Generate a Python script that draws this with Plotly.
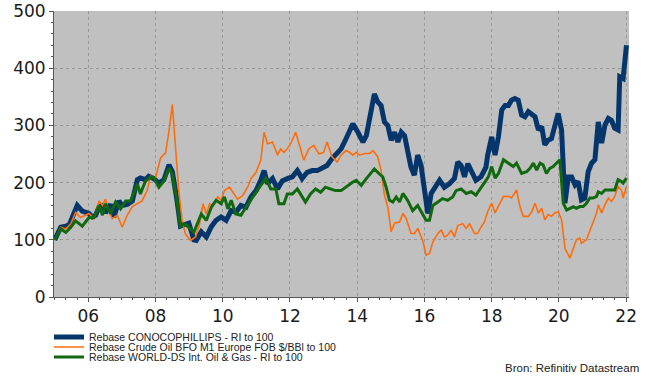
import plotly.graph_objects as go
from datetime import datetime

# ---- data (decimal years, rebased values) ----
conoco_t = [2005.0, 2005.18, 2005.33, 2005.43, 2005.57, 2005.67, 2005.82, 2006.02, 2006.12, 2006.22,
            2006.32, 2006.42, 2006.51, 2006.66, 2006.76, 2006.91, 2007.01, 2007.16, 2007.31, 2007.46,
            2007.55, 2007.70, 2007.80, 2007.95, 2008.10, 2008.25, 2008.40, 2008.50, 2008.64, 2008.74,
            2008.84, 2008.99, 2009.14, 2009.21, 2009.36, 2009.51, 2009.66, 2009.80, 2009.95, 2010.10,
            2010.25, 2010.39, 2010.54, 2010.69, 2010.84, 2010.99, 2011.13, 2011.23, 2011.33, 2011.48,
            2011.63, 2011.77, 2011.92, 2012.07, 2012.22, 2012.36, 2012.51, 2012.66, 2012.81, 2012.96,
            2013.10, 2013.25, 2013.40, 2013.52, 2013.67, 2013.87, 2014.02, 2014.17, 2014.27, 2014.37,
            2014.51, 2014.61, 2014.71, 2014.81, 2014.91, 2015.01, 2015.11, 2015.21, 2015.31, 2015.41,
            2015.50, 2015.60, 2015.70, 2015.80, 2015.90, 2016.00, 2016.10, 2016.20, 2016.35, 2016.45,
            2016.59, 2016.74, 2016.89, 2016.99, 2017.09, 2017.19, 2017.29, 2017.44, 2017.53, 2017.68,
            2017.83, 2017.88, 2018.00, 2018.10, 2018.20, 2018.30, 2018.40, 2018.50, 2018.59, 2018.69,
            2018.79, 2018.89, 2018.99, 2019.09, 2019.19, 2019.29, 2019.39, 2019.49, 2019.58, 2019.68,
            2019.78, 2019.88, 2019.98, 2020.08, 2020.18, 2020.28, 2020.38, 2020.48, 2020.57, 2020.67,
            2020.77, 2020.87, 2020.97, 2021.07, 2021.17, 2021.27, 2021.37, 2021.47, 2021.56, 2021.66,
            2021.76, 2021.81, 2021.91, 2022.01]
conoco_v = [100, 122, 124, 126, 146, 160, 150, 146, 140, 143,
            158, 160, 147, 162, 140, 168, 160, 162, 168, 205,
            208, 205, 211, 207, 199, 205, 231, 219, 168, 124,
            126, 129, 100, 99, 114, 105, 123, 134, 140, 134,
            151, 148, 160, 157, 175, 186, 204, 221, 198, 207,
            189, 203, 207, 210, 221, 207, 218, 221, 221, 227,
            230, 242, 250, 259, 277, 303, 288, 271, 282, 309,
            355, 341, 335, 306, 300, 274, 288, 271, 288, 282,
            256, 227, 213, 248, 230, 186, 146, 181, 195, 204,
            192, 198, 207, 236, 230, 210, 233, 215, 204, 210,
            227, 248, 280, 248, 280, 327, 335, 335, 344, 347,
            344, 318, 315, 324, 318, 315, 292, 298, 266, 274,
            277, 298, 321, 292, 164, 210, 210, 196, 202, 170,
            173, 219, 234, 240, 306, 269, 301, 312, 309, 295,
            292, 385, 382, 440]

brent_t = [2005.0, 2005.18, 2005.33, 2005.48, 2005.62, 2005.77, 2006.02, 2006.17, 2006.32, 2006.42,
           2006.51, 2006.61, 2006.71, 2006.86, 2007.01, 2007.16, 2007.31, 2007.46, 2007.60, 2007.75,
           2007.85, 2008.00, 2008.15, 2008.30, 2008.40, 2008.50, 2008.59, 2008.69, 2008.79, 2008.89,
           2009.04, 2009.19, 2009.31, 2009.41, 2009.51, 2009.61, 2009.70, 2009.85, 2009.95, 2010.05,
           2010.20, 2010.34, 2010.44, 2010.59, 2010.74, 2010.84, 2010.99, 2011.13, 2011.23, 2011.33,
           2011.48, 2011.63, 2011.72, 2011.82, 2011.92, 2012.02, 2012.17, 2012.27, 2012.41, 2012.56,
           2012.71, 2012.86, 2013.00, 2013.10, 2013.25, 2013.40, 2013.52, 2013.67, 2013.77, 2013.87,
           2013.97, 2014.07, 2014.22, 2014.37, 2014.47, 2014.61, 2014.71, 2014.81, 2014.91, 2015.01,
           2015.11, 2015.26, 2015.36, 2015.46, 2015.60, 2015.70, 2015.80, 2015.95, 2016.05, 2016.15,
           2016.25, 2016.40, 2016.50, 2016.59, 2016.69, 2016.79, 2016.89, 2016.99, 2017.14, 2017.24,
           2017.34, 2017.49, 2017.58, 2017.68, 2017.78, 2017.88, 2018.00, 2018.10, 2018.20, 2018.35,
           2018.50, 2018.59, 2018.74, 2018.84, 2018.94, 2019.09, 2019.19, 2019.29, 2019.39, 2019.49,
           2019.58, 2019.68, 2019.78, 2019.88, 2019.98, 2020.08, 2020.18, 2020.28, 2020.33, 2020.43,
           2020.52, 2020.62, 2020.67, 2020.82, 2020.92, 2021.02, 2021.12, 2021.17, 2021.27, 2021.37,
           2021.47, 2021.56, 2021.66, 2021.76, 2021.86, 2021.91, 2022.01]
brent_v = [100, 122, 119, 128, 148, 139, 146, 137, 168, 160,
           171, 150, 137, 143, 122, 143, 158, 163, 168, 186,
           211, 208, 243, 252, 290, 337, 261, 186, 133, 110,
           99, 105, 128, 163, 145, 163, 160, 175, 169, 186,
           192, 180, 171, 177, 192, 207, 218, 239, 288, 268,
           271, 248, 259, 253, 259, 268, 288, 268, 239, 259,
           265, 250, 253, 271, 245, 236, 248, 256, 253, 248,
           253, 248, 251, 251, 256, 245, 221, 178, 157, 114,
           129, 131, 146, 137, 111, 111, 120, 99, 73, 76,
           96, 111, 117, 105, 108, 117, 105, 125, 128, 120,
           128, 111, 111, 122, 131, 149, 164, 147, 158, 176,
           176, 173, 187, 158, 141, 141, 149, 164, 147, 155,
           135, 144, 141, 147, 149, 135, 85, 74, 68, 85,
           100, 103, 94, 100, 117, 132, 147, 161, 147, 161,
           173, 167, 176, 193, 187, 173, 193]

world_t = [2005.0, 2005.18, 2005.33, 2005.48, 2005.62, 2005.82, 2006.02, 2006.17, 2006.32, 2006.42,
           2006.51, 2006.66, 2006.81, 2006.96, 2007.11, 2007.26, 2007.46, 2007.55, 2007.70, 2007.85,
           2007.95, 2008.10, 2008.25, 2008.40, 2008.50, 2008.64, 2008.74, 2008.84, 2008.99, 2009.14,
           2009.36, 2009.51, 2009.66, 2009.80, 2009.95, 2010.05, 2010.15, 2010.25, 2010.39, 2010.54,
           2010.69, 2010.84, 2010.99, 2011.13, 2011.28, 2011.43, 2011.58, 2011.67, 2011.82, 2011.92,
           2012.07, 2012.22, 2012.36, 2012.46, 2012.61, 2012.76, 2012.91, 2013.05, 2013.20, 2013.35,
           2013.52, 2013.72, 2013.87, 2013.97, 2014.12, 2014.27, 2014.42, 2014.51, 2014.66, 2014.76,
           2014.86, 2014.96, 2015.06, 2015.16, 2015.26, 2015.36, 2015.50, 2015.65, 2015.80, 2015.95,
           2016.05, 2016.15, 2016.25, 2016.40, 2016.54, 2016.69, 2016.84, 2016.94, 2017.09, 2017.24,
           2017.39, 2017.53, 2017.68, 2017.83, 2017.90, 2018.00, 2018.10, 2018.20, 2018.35, 2018.50,
           2018.64, 2018.74, 2018.89, 2019.04, 2019.14, 2019.24, 2019.34, 2019.44, 2019.53, 2019.63,
           2019.73, 2019.83, 2019.93, 2020.03, 2020.13, 2020.23, 2020.33, 2020.43, 2020.52, 2020.62,
           2020.72, 2020.82, 2020.92, 2021.02, 2021.12, 2021.17, 2021.27, 2021.37, 2021.51, 2021.66,
           2021.76, 2021.86, 2021.91, 2022.01]
world_v = [100, 119, 113, 122, 133, 124, 139, 139, 160, 143,
           163, 146, 166, 154, 168, 168, 198, 180, 203, 209,
           209, 192, 203, 225, 214, 168, 122, 128, 122, 113,
           145, 134, 157, 169, 163, 175, 154, 169, 145, 143,
           157, 169, 183, 195, 207, 189, 189, 163, 163, 180,
           180, 189, 175, 166, 180, 189, 183, 192, 189, 186,
           186, 195, 201, 204, 195, 207, 219, 224, 215, 210,
           192, 169, 166, 175, 166, 181, 169, 151, 160, 143,
           134, 134, 160, 166, 172, 169, 175, 186, 189, 181,
           184, 178, 192, 204, 210, 228, 208, 216, 240, 234,
           228, 234, 216, 219, 225, 234, 222, 234, 231, 216,
           225, 228, 234, 240, 164, 152, 155, 158, 155, 158,
           158, 164, 173, 173, 176, 184, 181, 187, 187, 187,
           205, 202, 199, 208]

names = ["Rebase CONOCOPHILLIPS - RI to 100",
         "Rebase Crude Oil BFO M1 Europe FOB $/BBl to 100",
         "Rebase WORLD-DS Int. Oil & Gas - RI to 100"]
colors = ["#05366b", "#ff6d0a", "#11690f"]
widths = [5, 1.6, 3]

year_ticks = [2006, 2008, 2010, 2012, 2014, 2016, 2018, 2020, 2022]
year_labels = ["06", "08", "10", "12", "14", "16", "18", "20", "22"]
y_ticks = [0, 100, 200, 300, 400, 500]


def to_date(y):
    yr = int(y)
    start = datetime(yr, 1, 1)
    end = datetime(yr + 1, 1, 1)
    return start + (end - start) * (y - yr)


fig = go.Figure()
series = [(conoco_t, conoco_v), (brent_t, brent_v), (world_t, world_v)]
legend_ids = ["legend", "legend2", "legend3"]
for (t, v), name, col, w, lg in zip(series, names, colors, widths, legend_ids):
    fig.add_trace(go.Scatter(
        x=[to_date(a) for a in t], y=v, mode="lines", name=name,
        line=dict(color=col, width=w), legend=lg,
    ))

W, H = 649, 376
L, R, T, B = 54, 20, 11, 79
pw, ph = W - L - R, H - T - B


def py(ypage):
    return (H - B - ypage) / ph


def px(xpage):
    return (xpage - L) / pw


leg_common = dict(bgcolor="rgba(0,0,0,0)", font=dict(family="Liberation Sans, Arial", size=10.5, color="#222"),
                  xanchor="left", yanchor="middle", x=px(49), borderwidth=0,
                  itemwidth=30, tracegroupgap=0)

fig.update_layout(
    width=W, height=H,
    margin=dict(l=L, r=R, t=T, b=B, autoexpand=False),
    paper_bgcolor="white",
    plot_bgcolor="#c0c0c0",
    showlegend=True,
    legend=dict(y=py(337), **leg_common),
    legend2=dict(y=py(347), **leg_common),
    legend3=dict(y=py(357), **leg_common),
    xaxis=dict(
        type="date",
        range=[datetime(2004, 12, 24), datetime(2022, 2, 1)],
        tickvals=[datetime(y, 1, 1) for y in year_ticks],
        ticktext=year_labels,
        ticks="outside", ticklen=4, tickcolor="#555",
        showgrid=True, gridcolor="#999999", griddash="dot", gridwidth=1,
        showline=True, linecolor="#555", linewidth=1,
        tickfont=dict(family="DejaVu Sans, Arial", size=17, color="#1a1a1a"),
        ticklabeloverflow="allow",
        minor=dict(dtick="M4", tick0="2006-01-01", ticks="outside", ticklen=2, tickcolor="#555", showgrid=False),
        zeroline=False,
    ),
    yaxis=dict(
        range=[0, 500],
        tickvals=y_ticks,
        ticks="outside", ticklen=4, tickcolor="#555",
        showgrid=True, gridcolor="#999999", griddash="dot", gridwidth=1,
        showline=True, linecolor="#555", linewidth=1,
        tickfont=dict(family="DejaVu Sans, Arial", size=17, color="#1a1a1a"),
        ticklabeloverflow="allow",
        minor=dict(dtick=20, ticks="outside", ticklen=2, tickcolor="#555", showgrid=False),
        zeroline=False,
    ),
    annotations=[dict(
        text="Bron: Refinitiv Datastream", xref="paper", yref="paper",
        x=px(641), y=py(368), xanchor="right", yanchor="middle", showarrow=False,
        font=dict(family="Liberation Sans, Arial", size=11.5, color="#222"),
    )],
)

# remove the default 8px page margin so the figure fills the window exactly
fig.write_html("out.html", config={"displayModeBar": False},
               post_script="document.body.style.margin='0';")
